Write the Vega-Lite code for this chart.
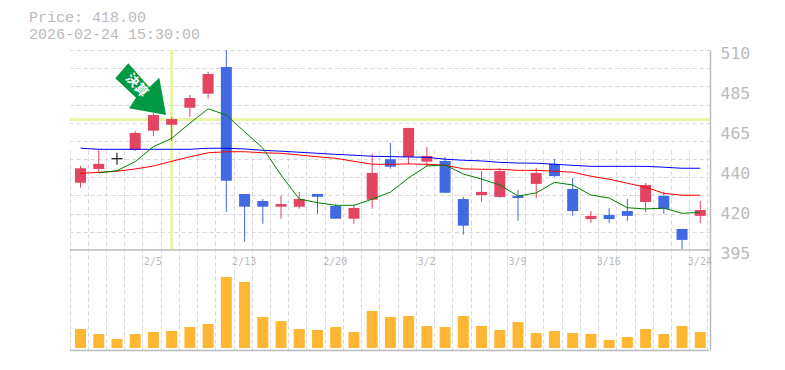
{"$schema":"https://vega.github.io/schema/vega-lite/v6.json","width":640,"height":300,"autosize":{"type":"none"},"padding":{"left":70,"top":50,"right":75,"bottom":20},"background":"white","config":{"view":{"stroke":null}},
"title":{"text":["Price: 418.00","2026-02-24 15:30:00"],"anchor":"start","frame":"group","dx":-41,"offset":3,"font":"Liberation Mono","fontSize":15,"fontWeight":"normal","color":"#bbbbbb","lineHeight":17},
"datasets":{"d":[
{"date":"1/30","high":443.3,"low":430.8,"open":433.7,"close":442.0,"dir":"up","ma25":453.5,"ma75":439.1,"ma5":null,"volume":19},
{"date":"2/2","high":453.1,"low":439.4,"open":441.6,"close":444.5,"dir":"up","ma25":452.9,"ma75":439.6,"ma5":439.4,"volume":14},
{"date":"2/3","high":450.9,"low":444.0,"open":447.8,"close":447.2,"dir":"flat","ma25":452.9,"ma75":440.3,"ma5":440.6,"volume":9},
{"date":"2/4","high":463.4,"low":451.9,"open":452.5,"close":462.3,"dir":"up","ma25":452.9,"ma75":441.6,"ma5":445.8,"volume":14},
{"date":"2/5","high":473.8,"low":460.7,"open":463.6,"close":472.6,"dir":"up","ma25":452.9,"ma75":443.3,"ma5":454.4,"volume":16},
{"date":"2/6","high":471.3,"low":457.8,"open":467.0,"close":470.3,"dir":"up","ma25":452.9,"ma75":446.0,"ma5":459.2,"volume":17},
{"date":"2/9","high":484.1,"low":471.6,"open":476.8,"close":482.4,"dir":"up","ma25":452.9,"ma75":448.6,"ma5":467.9,"volume":21},
{"date":"2/10","high":497.4,"low":482.0,"open":484.9,"close":496.2,"dir":"up","ma25":453.5,"ma75":450.9,"ma5":476.2,"volume":24},
{"date":"2/12","high":510,"low":416.9,"open":500.2,"close":434.8,"dir":"down","ma25":453.5,"ma75":451.5,"ma5":472.6,"volume":71},
{"date":"2/13","high":427.2,"low":399.8,"open":427.2,"close":419.9,"dir":"down","ma25":453.1,"ma75":451.5,"ma5":463.0,"volume":66},
{"date":"2/16","high":424.3,"low":410.1,"open":423.2,"close":419.9,"dir":"down","ma25":452.3,"ma75":450.9,"ma5":453.6,"volume":31},
{"date":"2/17","high":426.1,"low":413.0,"open":419.9,"close":421.4,"dir":"up","ma25":451.8,"ma75":450.6,"ma5":438.1,"volume":27},
{"date":"2/18","high":428.4,"low":418.7,"open":419.9,"close":424.3,"dir":"up","ma25":451.2,"ma75":449.6,"ma5":424.3,"volume":19},
{"date":"2/19","high":427.2,"low":415.9,"open":427.2,"close":425.6,"dir":"down","ma25":450.6,"ma75":448.6,"ma5":422.2,"volume":18},
{"date":"2/20","high":421.4,"low":413.0,"open":420.3,"close":413.0,"dir":"down","ma25":450.0,"ma75":447.7,"ma5":420.7,"volume":21},
{"date":"2/24","high":420.9,"low":410.1,"open":413.0,"close":419.2,"dir":"up","ma25":449.5,"ma75":446.0,"ma5":420.7,"volume":16},
{"date":"2/25","high":450.2,"low":418.7,"open":423.9,"close":439.3,"dir":"up","ma25":448.9,"ma75":444.3,"ma5":424.2,"volume":37},
{"date":"2/26","high":456.5,"low":441.7,"open":447.2,"close":442.9,"dir":"down","ma25":448.7,"ma75":444.3,"ma5":428.3,"volume":31},
{"date":"2/27","high":465.2,"low":444.5,"open":448.5,"close":465.2,"dir":"up","ma25":448.5,"ma75":444.5,"ma5":436.4,"volume":32},
{"date":"3/2","high":454.2,"low":442.7,"open":445.8,"close":449.1,"dir":"up","ma25":448.3,"ma75":444.3,"ma5":443.3,"volume":22},
{"date":"3/3","high":448.5,"low":427.9,"open":446.2,"close":427.9,"dir":"down","ma25":447.2,"ma75":443.7,"ma5":443.9,"volume":21},
{"date":"3/4","high":425.5,"low":403.8,"open":424.3,"close":409.0,"dir":"down","ma25":446.6,"ma75":441.7,"ma5":438.7,"volume":32},
{"date":"3/5","high":440.4,"low":422.8,"open":426.6,"close":428.4,"dir":"up","ma25":446.2,"ma75":441.4,"ma5":435.8,"volume":22},
{"date":"3/6","high":442.0,"low":425.1,"open":425.5,"close":440.4,"dir":"up","ma25":445.4,"ma75":441.4,"ma5":432.4,"volume":18},
{"date":"3/9","high":429.5,"low":411.8,"open":426.1,"close":424.9,"dir":"down","ma25":445.0,"ma75":440.8,"ma5":426.0,"volume":26},
{"date":"3/10","high":442.2,"low":424.9,"open":433.0,"close":439.3,"dir":"up","ma25":444.9,"ma75":440.8,"ma5":427.8,"volume":15},
{"date":"3/11","high":447.3,"low":437.0,"open":444.5,"close":437.5,"dir":"down","ma25":444.3,"ma75":440.3,"ma5":433.9,"volume":17},
{"date":"3/12","high":436.4,"low":414.6,"open":430.1,"close":417.4,"dir":"down","ma25":443.7,"ma75":439.7,"ma5":432.4,"volume":15},
{"date":"3/13","high":417.4,"low":410.5,"open":412.8,"close":414.6,"dir":"up","ma25":443.1,"ma75":437.4,"ma5":426.6,"volume":14},
{"date":"3/16","high":419.2,"low":410.5,"open":415.1,"close":412.8,"dir":"down","ma25":443.1,"ma75":435.7,"ma5":424.9,"volume":8},
{"date":"3/17","high":424.3,"low":411.7,"open":417.4,"close":414.6,"dir":"down","ma25":443.1,"ma75":433.4,"ma5":419.3,"volume":11},
{"date":"3/18","high":433.5,"low":416.9,"open":422.6,"close":432.4,"dir":"up","ma25":443.1,"ma75":431.1,"ma5":418.6,"volume":19},
{"date":"3/19","high":428.4,"low":415.7,"open":426.1,"close":418.6,"dir":"down","ma25":442.6,"ma75":427.6,"ma5":419.1,"volume":14},
{"date":"3/23","high":407.1,"low":395.6,"open":407.1,"close":400.8,"dir":"down","ma25":442.0,"ma75":426.5,"ma5":416.1,"volume":22},
{"date":"3/24","high":423.2,"low":410.5,"open":414.6,"close":418.0,"dir":"up","ma25":442.0,"ma75":426.5,"ma5":416.7,"volume":16}
],"m":[{"date":"2/4","price":490,"label":"決算"}],"c":[{"date":"2/6","price":470,"top":510,"bottom":395}]},
"data":{"name":"d"},
"layer":[
{"data":{"name":"c"},"mark":{"type":"rule","color":"#e6f5a8","strokeWidth":3},"encoding":{"y":{"field":"price","type":"quantitative","scale":{"domain":[395,510],"range":[200,0]},"axis":{"orient":"right","grid":true,"gridColor":"#d8d8d8","gridDash":[4,3],"gridWidth":1,"labels":false,"ticks":false,"domain":false,"title":null,"values":[510,499.55,489.09,478.64,468.18,457.73,447.27,436.82,426.36,415.91,405.45]}}}},
{"data":{"name":"c"},"mark":{"type":"rule","color":"#e6f5a8","strokeWidth":3,"xOffset":1.4},"encoding":{"x":{"field":"date","type":"ordinal","axis":{"orient":"bottom","values":["3/24"],"bandPosition":1,"grid":true,"gridColor":"#d8d8d8","gridDash":[4,3],"gridWidth":1,"labels":false,"ticks":false,"domain":false,"title":null}},"y":{"field":"top","type":"quantitative","axis":null,"scale":{"domain":[395,510],"range":[200,0]}},"y2":{"field":"bottom"}}},
{"mark":{"type":"rule","strokeWidth":1,"xOffset":1.4},"encoding":{"x":{"field":"date","type":"ordinal","scale":{"type":"band","range":[0,638],"paddingInner":0,"paddingOuter":0,"domain":["1/30","2/2","2/3","2/4","2/5","2/6","2/9","2/10","2/12","2/13","2/16","2/17","2/18","2/19","2/20","2/24","2/25","2/26","2/27","3/2","3/3","3/4","3/5","3/6","3/9","3/10","3/11","3/12","3/13","3/16","3/17","3/18","3/19","3/23","3/24"]},"axis":{"orient":"bottom","bandPosition":0,"grid":true,"gridColor":"#d8d8d8","gridDash":[4,3],"gridWidth":1,"labels":false,"ticks":false,"domain":true,"domainColor":"#bbbbbb","domainWidth":1.5,"title":null}},"y":{"field":"high","type":"quantitative","scale":{"domain":[395,510],"range":[200,0]},"axis":{"orient":"right","values":[510,487,464,441,418,395],"labelExpr":"round(datum.value/5)*5","grid":false,"ticks":false,"domain":true,"domainColor":"#bbbbbb","domainWidth":1.5,"title":null,"labelFont":"DejaVu Sans Mono","labelFontSize":16.5,"labelColor":"#bbbbbb","labelPadding":10,"labelOffset":3,"labelFlush":false,"labelOverlap":false}},"y2":{"field":"low"},"color":{"field":"dir","type":"nominal","legend":null,"scale":{"domain":["up","down","flat"],"range":["#e24462","#4169e1","#000000"]}}}},
{"mark":{"type":"bar","width":11,"xOffset":1.4},"encoding":{"x":{"field":"date","type":"ordinal","axis":{"orient":"bottom","offset":-100,"values":["2/5","2/13","2/20","3/2","3/9","3/16","3/24"],"grid":false,"ticks":false,"domain":false,"title":null,"labelFont":"DejaVu Sans Mono","labelFontSize":10,"labelColor":"#bbbbbb","labelPadding":6,"labelAngle":0,"labelOffset":1,"labelFlush":false,"labelOverlap":false}},"y":{"field":"open","type":"quantitative","axis":null,"scale":{"domain":[395,510],"range":[200,0]}},"y2":{"field":"close"},"color":{"field":"dir","type":"nominal","legend":null}}},
{"mark":{"type":"line","color":"#0000ff","strokeWidth":1,"xOffset":1.4},"encoding":{"x":{"field":"date","type":"ordinal","axis":null},"y":{"field":"ma25","type":"quantitative","axis":null,"scale":{"domain":[395,510],"range":[200,0]}}}},
{"mark":{"type":"line","color":"#ff0000","strokeWidth":1,"xOffset":1.4},"encoding":{"x":{"field":"date","type":"ordinal","axis":null},"y":{"field":"ma75","type":"quantitative","axis":null,"scale":{"domain":[395,510],"range":[200,0]}}}},
{"mark":{"type":"line","color":"#008000","strokeWidth":1,"xOffset":1.4},"encoding":{"x":{"field":"date","type":"ordinal","axis":null},"y":{"field":"ma5","type":"quantitative","axis":null,"scale":{"domain":[395,510],"range":[200,0]}}}},
{"mark":{"type":"bar","width":11,"color":"#ffb733","xOffset":1.4},"encoding":{"x":{"field":"date","type":"ordinal","axis":null},"y":{"field":"volume","type":"quantitative","scale":{"domain":[-2,98],"range":[300,200]},"axis":{"orient":"right","labels":false,"ticks":false,"grid":false,"domain":true,"domainColor":"#bbbbbb","domainWidth":1.5,"title":null}},"y2":{"datum":0}}},
{"data":{"name":"c"},"mark":{"type":"rule","color":"#bbbbbb","strokeWidth":1.5},"encoding":{"y":{"field":"bottom","type":"quantitative","axis":null,"scale":{"domain":[395,510],"range":[200,0]}}}},
{"data":{"name":"m"},"mark":{"type":"point","filled":true,"color":"#009944","opacity":1,"size":4,"strokeWidth":0,"xOffset":1.4,"shape":"M-6.9,-21.5L-19.9,-6.5L0.8,12.9L-6.2,23.5L30.8,30.2L24.1,-7.1L14.1,2.5Z"},"encoding":{"x":{"field":"date","type":"ordinal","axis":null},"y":{"field":"price","type":"quantitative","axis":null,"scale":{"domain":[395,510],"range":[200,0]}}}},
{"data":{"name":"m"},"mark":{"type":"text","color":"white","font":"Noto Sans CJK JP","fontWeight":"bold","fontSize":13,"angle":48,"xOffset":2.8,"yOffset":0.7,"align":"center","baseline":"middle"},"encoding":{"x":{"field":"date","type":"ordinal","axis":null},"y":{"field":"price","type":"quantitative","axis":null,"scale":{"domain":[395,510],"range":[200,0]}},"text":{"field":"label"}}}
],
"resolve":{"scale":{"y":"independent"},"axis":{"x":"independent","y":"independent"}}}
